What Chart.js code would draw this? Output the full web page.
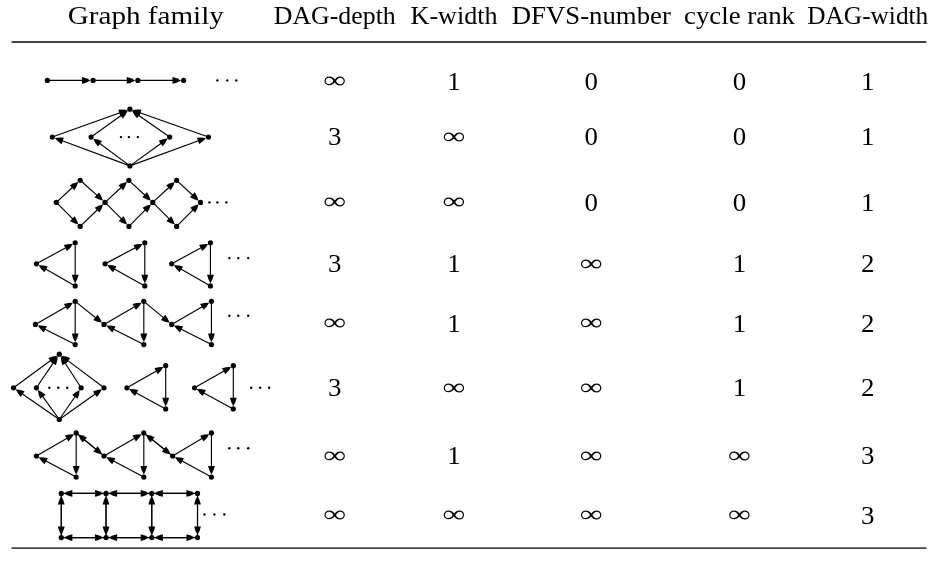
<!DOCTYPE html>
<html>
<head>
<meta charset="utf-8">
<script src="https://cdn.jsdelivr.net/npm/chart.js@4.4.1/dist/chart.umd.min.js"></script>
<style>
  html, body { margin: 0; padding: 0; background: #fff; }
  #wrap { width: 935px; height: 570px; }
</style>
</head>
<body>
<div id="wrap"><canvas id="myChart"></canvas></div>
<script>
// table
const headers = ["Graph family", "DAG-depth", "K-width", "DFVS-number", "cycle rank", "DAG-width"];
const dagDepth = ["∞", "3", "∞", "3", "∞", "3", "∞", "∞"];
const kWidth = ["1", "∞", "∞", "1", "1", "∞", "1", "∞"];
const dfvsNumber = ["0", "0", "0", "∞", "∞", "∞", "∞", "∞"];
const cycleRank = ["0", "0", "0", "1", "1", "1", "∞", "∞"];
const dagWidth = ["1", "1", "1", "2", "2", "2", "3", "3"];

// graph drawings: nodes [x, y], edges [from, to] (arrow at "to")
const pathNodes = [[45, 81], [91, 81], [136, 81], [182, 81]];
const pathEdges = [[0, 1], [1, 2], [2, 3]];
const pathDots = [[216, 81], [226, 81], [235, 81]];

const fanNodes = [[128, 111], [50, 140], [89, 140], [168, 140], [207, 140], [128, 170]];
const fanEdges = [[5, 1], [5, 2], [5, 3], [5, 4], [1, 0], [2, 0], [3, 0], [4, 0]];
const fanDots = [[119, 140], [127, 140], [136, 140]];

const diamondNodes = [[54, 208], [78, 185], [78, 233], [103, 208], [127, 185], [127, 233],
  [151, 208], [175, 185], [175, 233], [199, 208]];
const diamondEdges = [[0, 1], [0, 2], [1, 3], [2, 3], [3, 4], [3, 5], [4, 6], [5, 6],
  [6, 7], [6, 8], [7, 9], [8, 9]];
const diamondDots = [[208, 208], [216, 208], [225, 208]];

const triNodes = [[34, 272], [73, 250], [73, 295], [103, 272], [143, 250], [143, 295],
  [170, 272], [209, 250], [209, 295]];
const triEdges = [[0, 1], [1, 2], [2, 0], [3, 4], [4, 5], [5, 3], [6, 7], [7, 8], [8, 6]];
const triDots = [[228, 266], [237, 266], [247, 266]];

const chainNodes = [[33, 335], [73, 311], [73, 356], [102, 335], [142, 311], [142, 356],
  [170, 335], [210, 311], [210, 356]];
const chainEdges = [[0, 1], [1, 2], [2, 0], [3, 4], [4, 5], [5, 3], [6, 7], [7, 8], [8, 6],
  [1, 3], [4, 6]];
const chainDots = [[228, 326], [237, 326], [247, 326]];

const fanTriNodes = [[57, 366], [11, 401], [34, 401], [79, 401], [102, 401], [57, 434],
  [125, 401], [164, 378], [164, 423], [193, 401], [232, 378], [232, 423]];
const fanTriEdges = [[5, 1], [5, 2], [5, 3], [5, 4], [1, 0], [2, 0], [3, 0], [4, 0],
  [6, 7], [7, 8], [8, 6], [9, 10], [10, 11], [11, 9]];
const fanTriDots = [[47, 401], [56, 401], [65, 401], [250, 401], [259, 401], [268, 401]];

const linkNodes = [[34, 472], [74, 448], [74, 494], [102, 472], [142, 448], [142, 494],
  [171, 472], [210, 448], [210, 494]];
const linkEdges = [[0, 1], [1, 2], [2, 0], [3, 4], [4, 5], [5, 3], [6, 7], [7, 8], [8, 6],
  [1, 3], [3, 1], [4, 6], [6, 4]];
const linkDots = [[228, 464], [237, 464], [247, 464]];

const ladderNodes = [[59, 511], [104, 511], [150, 511], [196, 511],
  [59, 557], [104, 557], [150, 557], [196, 557]];
const ladderEdges = [[0, 1], [1, 0], [1, 2], [2, 1], [2, 3], [3, 2],
  [4, 5], [5, 4], [5, 6], [6, 5], [6, 7], [7, 6],
  [0, 4], [4, 0], [1, 5], [5, 1], [2, 6], [6, 2], [3, 7], [7, 3]];
const ladderDots = [[203, 533], [213, 533], [223, 533]];

const graphs = [
  [pathNodes, pathEdges, pathDots],
  [fanNodes, fanEdges, fanDots],
  [diamondNodes, diamondEdges, diamondDots],
  [triNodes, triEdges, triDots],
  [chainNodes, chainEdges, chainDots],
  [fanTriNodes, fanTriEdges, fanTriDots],
  [linkNodes, linkEdges, linkDots],
  [ladderNodes, ladderEdges, ladderDots],
];

// layout
const headerX = [144, 334, 454, 592, 741, 870];
const headerW = [156, 122, 87, 159, 111, 121];
const headerY = 22;
const valueX = [334, 454, 592, 741, 870];
const rowY = [82, 140, 208, 272, 334, 401, 472, 534];
const ruleY = [41, 568];
const NODE_R = 2.6;
const Y_MAX = 588;

const columns = [dagDepth, kWidth, dfvsNumber, cycleRank, dagWidth];

const nodePoints = [];
const dotPoints = [];
graphs.forEach(([nodes, , dots]) => {
  nodes.forEach(([x, y]) => nodePoints.push({ x, y }));
  dots.forEach(([x, y]) => dotPoints.push({ x, y }));
});

function drawText(ctx, str, x, y, centerY, width) {
  ctx.save();
  ctx.font = "25px 'Liberation Serif', 'DejaVu Serif', serif";
  ctx.textAlign = "center";
  ctx.textBaseline = "alphabetic";
  const m = ctx.measureText(str);
  const sy = 0.97;
  let sx = 1.075;
  if (str === "∞") sx = 23 / m.width;
  if (width) sx = width / m.width;
  let base = y;
  if (centerY) base = y + sy * (m.actualBoundingBoxAscent - m.actualBoundingBoxDescent) / 2;
  ctx.translate(x, base);
  ctx.scale(sx, sy);
  ctx.fillStyle = "#000";
  ctx.fillText(str, 0, 0);
  ctx.restore();
}

function drawArrow(ctx, ax, ay, bx, by) {
  const dx = bx - ax, dy = by - ay;
  const len = Math.hypot(dx, dy);
  const ux = dx / len, uy = dy / len;
  const L = 8.5, W = 3.4;
  const tx = bx - ux * NODE_R, ty = by - uy * NODE_R;
  const cx = tx - ux * L, cy = ty - uy * L;
  ctx.beginPath();
  ctx.moveTo(ax, ay);
  ctx.lineTo(cx + ux * 2, cy + uy * 2);
  ctx.stroke();
  const px = -uy, py = ux;
  ctx.beginPath();
  ctx.moveTo(tx, ty);
  ctx.quadraticCurveTo(tx - ux * L * 0.5 + px * W * 0.75, ty - uy * L * 0.5 + py * W * 0.75,
    cx + px * W, cy + py * W);
  ctx.lineTo(cx - px * W, cy - py * W);
  ctx.quadraticCurveTo(tx - ux * L * 0.5 - px * W * 0.75, ty - uy * L * 0.5 - py * W * 0.75,
    tx, ty);
  ctx.closePath();
  ctx.fill();
}

const tablePlugin = {
  id: "table",
  beforeDatasetsDraw(chart) {
    const { ctx, scales: { x, y } } = chart;
    ctx.save();
    ctx.strokeStyle = "#000";
    ctx.fillStyle = "#000";
    ctx.lineWidth = 1.15;
    graphs.forEach(([nodes, edges]) => {
      edges.forEach(([a, b]) => {
        drawArrow(ctx,
          x.getPixelForValue(nodes[a][0]), y.getPixelForValue(nodes[a][1]),
          x.getPixelForValue(nodes[b][0]), y.getPixelForValue(nodes[b][1]));
      });
    });
    ctx.restore();
  },
  afterDatasetsDraw(chart) {
    const { ctx, scales: { x, y } } = chart;
    headers.forEach((h, i) =>
      drawText(ctx, h, x.getPixelForValue(headerX[i]), y.getPixelForValue(headerY), false, headerW[i]));
    columns.forEach((col, c) => {
      col.forEach((v, r) => drawText(ctx, v, x.getPixelForValue(valueX[c]), y.getPixelForValue(rowY[r]), true));
    });
    ctx.save();
    ctx.strokeStyle = "#444";
    ctx.lineWidth = 1.8;
    ruleY.forEach((ry) => {
      ctx.beginPath();
      ctx.moveTo(x.getPixelForValue(9), y.getPixelForValue(ry));
      ctx.lineTo(x.getPixelForValue(929), y.getPixelForValue(ry));
      ctx.stroke();
    });
    ctx.restore();
  },
};

const ctx = document.getElementById("myChart");

new Chart(ctx, {
  type: "scatter",
  data: {
    datasets: [
      {
        label: "nodes",
        data: nodePoints,
        pointRadius: NODE_R,
        pointHoverRadius: NODE_R,
        backgroundColor: "#000",
        borderWidth: 0,
      },
      {
        label: "dots",
        data: dotPoints,
        pointRadius: 1.2,
        pointHoverRadius: 1.2,
        backgroundColor: "#000",
        borderWidth: 0,
      },
    ],
  },
  options: {
    responsive: true,
    maintainAspectRatio: false,
    animation: false,
    events: [],
    layout: { padding: 0 },
    plugins: {
      legend: { display: false },
      tooltip: { enabled: false },
    },
    scales: {
      x: { type: "linear", min: 0, max: 935, display: false },
      y: { type: "linear", min: 0, max: Y_MAX, reverse: true, display: false },
    },
  },
  plugins: [tablePlugin],
});
</script>
</body>
</html>
